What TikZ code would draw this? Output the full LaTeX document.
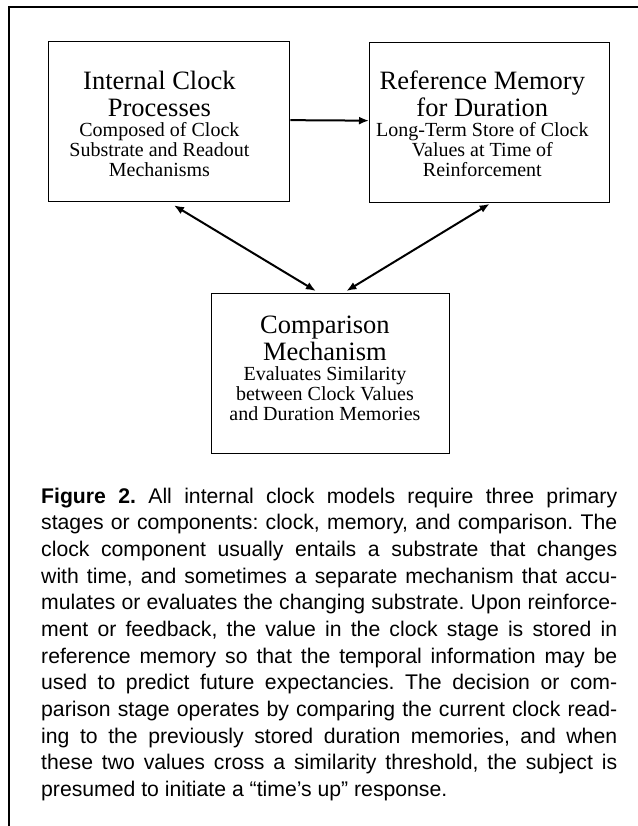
\documentclass[tikz,border=0pt]{standalone}
\usepackage{fontspec}
\setmainfont{Liberation Serif}
\newfontfamily\capfont{Liberation Sans}
\usetikzlibrary{arrows.meta}
\frenchspacing
\newcommand\stagetext[5]{%
  \begin{minipage}[c][160bp][t]{#1}%
  \vspace*{#2}%
  \parskip=0pt\parindent=0pt
  \centering\rightskip=#3 plus 1fil\relax
  {\fontsize{26.5bp}{27bp}\selectfont #4\par}%
  {\fontsize{20bp}{20bp}\selectfont #5\par}%
  \end{minipage}}
\tikzset{
  stage/.style={draw=black, line width=1.3bp, inner sep=0pt, rectangle, anchor=north west},
  arr/.style={line width=2bp, -{Latex[length=10bp,width=8bp]}},
  darr/.style={line width=2bp, {Latex[length=10bp,width=8bp]}-{Latex[length=10bp,width=8bp]}},
  frame/.style={line width=1.3bp}
}
\begin{document}
\begin{tikzpicture}[x=1bp,y=-1bp]
\useasboundingbox (0,0) rectangle (638,826);
\fill[white] (0,0) rectangle (638,826);
\coordinate (fr) at (638,7);
\coordinate (fc) at (9,7);
\coordinate (fb) at (9,826);
\draw[frame] (fr) -- (fc) -- (fb);

\node[stage] (clock) at (47.5,41) {\stagetext{241.5bp}{29bp}{19bp}{Internal Clock\\Processes}{Composed of Clock\\Substrate and Readout\\Mechanisms}};
\node[stage] (memory) at (369,41.5) {\stagetext{240bp}{28.5bp}{14.6bp}{Reference Memory\\for Duration}{Long-Term Store of Clock\\Values at Time of\\Reinforcement}};
\node[stage] (comp) at (210.5,293) {\stagetext{238.5bp}{22bp}{11bp}{Comparison\\Mechanism}{Evaluates Similarity\\between Clock Values\\and Duration Memories}};

\draw[arr] ([yshift=1.5bp]clock.east) -- ([yshift=1.5bp]memory.west);
\draw[darr] ([xshift=5bp,yshift=-3bp]clock.south) -- ([xshift=-14.5bp,yshift=2bp]comp.north);
\draw[darr] ([yshift=-1bp]memory.south) -- ([xshift=16bp,yshift=2bp]comp.north);

\node[anchor=north west, inner sep=0pt, text width=576bp, align=justify,
      font=\capfont\fontsize{21.2bp}{26.67bp}\selectfont] (cap) at (41,487.5)
{{\bfseries Figure 2.} All internal clock models require three primary\linebreak
stages or components: clock, memory, and comparison. The\linebreak
clock component usually entails a substrate that changes\linebreak
with time, and sometimes a separate mechanism that accu-\linebreak
mulates or evaluates the changing substrate. Upon reinforce-\linebreak
ment or feedback, the value in the clock stage is stored in\linebreak
reference memory so that the temporal information may be\linebreak
used to predict future expectancies. The decision or com-\linebreak
parison stage operates by comparing the current clock read-\linebreak
ing to the previously stored duration memories, and when\linebreak
these two values cross a similarity threshold, the subject is\linebreak
presumed to initiate a “time’s up” response.};
\end{tikzpicture}
\end{document}
